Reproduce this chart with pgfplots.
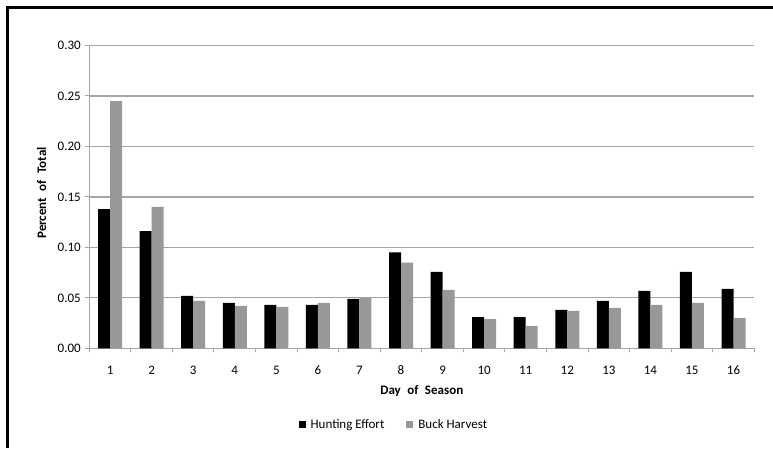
\documentclass[border=0pt]{standalone}
\usepackage{fontspec}
\setmainfont{Carlito}
\usepackage{pgfplots}
\pgfplotsset{compat=1.18}
\definecolor{barg}{RGB}{152,152,152}
\definecolor{gridc}{RGB}{165,165,165}
\begin{document}
\fontsize{13pt}{15pt}\selectfont
\begin{tikzpicture}[x=1pt,y=1pt]
\path[use as bounding box] (0,0) rectangle (773,448);
\fill[white] (0,0) rectangle (773,448);
\draw[line width=3pt] (7,0) -- (7,440) -- (773,440);
\begin{axis}[
  at={(89.3pt,99.7pt)}, anchor=south west,
  scale only axis, width=665pt, height=302.8pt,
  ybar=0pt, bar width=12pt,
  xmin=0.5, xmax=16.5, ymin=0, ymax=0.30,
  xtick={1,...,16},
  minor xtick={0.5,1.5,...,16.5},
  ytick={0,0.05,...,0.31},
  major x tick style={draw=none},
  tick align=outside,
  major tick length=4pt, minor tick length=4pt,
  tick style={gridc, line width=1pt},
  ymajorgrids, grid style={gridc, line width=1.3pt},
  axis x line*=bottom, axis y line*=left,
  axis line style={gridc, line width=1.3pt, -},
  /pgf/number format/assume math mode=true,
  yticklabel style={/pgf/number format/.cd, fixed, fixed zerofill, precision=2},
  xticklabel style={yshift=-9pt},
  ticklabel style={font=\fontsize{13pt}{15pt}\selectfont},
  xlabel={\bfseries Day\hspace{0.5em}of\hspace{0.5em}Season},
  ylabel={\bfseries Percent\hspace{0.5em}of\hspace{0.5em}Total},
  xlabel style={at={(axis description cs:0.5,-0.140)}, anchor=center, font=\fontsize{13pt}{15pt}\selectfont},
  ylabel style={at={(axis description cs:-0.0716,0.513)}, anchor=center, font=\fontsize{13pt}{15pt}\selectfont},
  legend style={at={(0.458,-0.2517)}, anchor=center, draw=none, legend columns=2,
    font=\fontsize{13pt}{15pt}\selectfont,
    /tikz/every even column/.append style={column sep=20pt}},
  legend image code/.code={\fill[#1] (0pt,-3.5pt) rectangle (7pt,3.5pt); \path (0pt,0pt) -- (10pt,0pt);},
  clip=false,
]
\addplot[fill=black, draw=none] coordinates {
(1,0.138) (2,0.116) (3,0.052) (4,0.045) (5,0.043) (6,0.043) (7,0.049) (8,0.095)
(9,0.0756) (10,0.031) (11,0.031) (12,0.038) (13,0.047) (14,0.057) (15,0.0756) (16,0.059)};
\addplot[fill=barg, draw=none] coordinates {
(1,0.245) (2,0.140) (3,0.047) (4,0.042) (5,0.041) (6,0.045) (7,0.050) (8,0.085)
(9,0.058) (10,0.029) (11,0.022) (12,0.037) (13,0.040) (14,0.043) (15,0.045) (16,0.030)};
\legend{Hunting Effort, Buck Harvest}
\end{axis}
\end{tikzpicture}
\end{document}
